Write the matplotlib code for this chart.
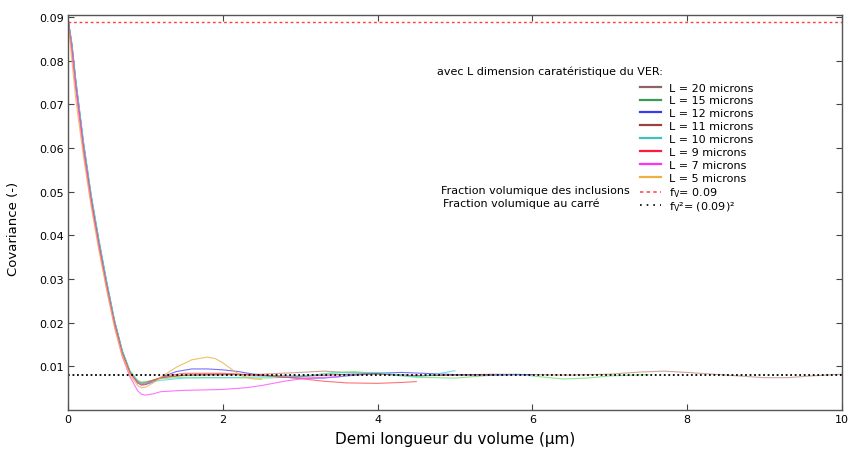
import matplotlib
matplotlib.use("Agg")
import matplotlib.pyplot as plt
from matplotlib.lines import Line2D

# ---------------- data ----------------
x_L20 = [0, 0.05, 0.1, 0.2, 0.3, 0.4, 0.5, 0.6, 0.7, 0.8, 0.9, 0.95, 1.0, 1.1, 1.2, 1.5, 2.0, 2.5, 3.0, 3.3, 3.7, 4.0,
         4.5, 5.0, 5.5, 6.0, 6.5, 7.0, 7.4, 7.7, 8.0, 8.5, 9.0, 9.3, 9.6, 10.0]
y_L20 = [0.0895, 0.0835, 0.0752, 0.0608, 0.0485, 0.0382, 0.0288, 0.0203, 0.0135, 0.0088, 0.0066, 0.0062, 0.0063,
         0.0068, 0.0074, 0.0079, 0.0080, 0.0082, 0.0086, 0.0089, 0.0085, 0.0082, 0.0079, 0.0080, 0.0082, 0.0081,
         0.0080, 0.0082, 0.0087, 0.0089, 0.0086, 0.0080, 0.0074, 0.0074, 0.0078, 0.0082]

x_L15 = [0, 0.05, 0.1, 0.2, 0.3, 0.4, 0.5, 0.6, 0.7, 0.8, 0.9, 0.95, 1.0, 1.1, 1.2, 1.5, 2.0, 2.5, 3.0, 3.4, 3.7, 4.0,
         4.5, 5.0, 5.5, 5.8, 6.1, 6.4, 6.7, 7.0, 7.5]
y_L15 = [0.0895, 0.0836, 0.0753, 0.0610, 0.0488, 0.0385, 0.0290, 0.0205, 0.0137, 0.0090, 0.0068, 0.0064, 0.0065,
         0.0068, 0.0072, 0.0075, 0.0074, 0.0073, 0.0076, 0.0085, 0.0088, 0.0083, 0.0075, 0.0073, 0.0080, 0.0082,
         0.0076, 0.0071, 0.0073, 0.0078, 0.0081]

x_L12 = [0, 0.05, 0.1, 0.2, 0.3, 0.4, 0.5, 0.6, 0.7, 0.8, 0.9, 0.95, 1.0, 1.1, 1.2, 1.4, 1.6, 1.8, 2.0, 2.2, 2.4,
         2.7, 3.0, 3.3, 3.6, 4.0, 4.3, 4.6, 5.0, 5.5, 6.0]
y_L12 = [0.0895, 0.0838, 0.0755, 0.0612, 0.0490, 0.0388, 0.0293, 0.0205, 0.0135, 0.0087, 0.0062, 0.0057, 0.0058,
         0.0064, 0.0075, 0.0088, 0.0094, 0.0094, 0.0092, 0.0088, 0.0082, 0.0076, 0.0073, 0.0073, 0.0078, 0.0084,
         0.0086, 0.0084, 0.0081, 0.0080, 0.0081]

x_L11 = [0, 0.05, 0.1, 0.2, 0.3, 0.4, 0.5, 0.6, 0.7, 0.8, 0.9, 0.95, 1.0, 1.1, 1.2, 1.5, 2.0, 2.5, 3.0, 3.5, 4.0,
         4.5, 5.0, 5.5]
y_L11 = [0.0895, 0.0834, 0.0750, 0.0606, 0.0484, 0.0381, 0.0287, 0.0202, 0.0134, 0.0087, 0.0065, 0.0061, 0.0062,
         0.0068, 0.0074, 0.0080, 0.0082, 0.0079, 0.0077, 0.0081, 0.0083, 0.0078, 0.0080, 0.0081]

x_L10 = [0, 0.05, 0.1, 0.2, 0.3, 0.4, 0.5, 0.6, 0.7, 0.8, 0.9, 0.95, 1.0, 1.1, 1.2, 1.5, 2.0, 2.5, 3.0, 3.5, 4.0,
         4.3, 4.5, 4.75, 5.0]
y_L10 = [0.0895, 0.0840, 0.0758, 0.0615, 0.0493, 0.0390, 0.0295, 0.0207, 0.0137, 0.0089, 0.0066, 0.0061, 0.0062,
         0.0065, 0.0068, 0.0073, 0.0074, 0.0076, 0.0078, 0.0085, 0.0086, 0.0080, 0.0076, 0.0082, 0.0090]

x_L9 = [0, 0.05, 0.1, 0.2, 0.3, 0.4, 0.5, 0.6, 0.7, 0.8, 0.9, 0.95, 1.0, 1.1, 1.3, 1.5, 2.0, 2.5, 3.0, 3.3, 3.6,
        4.0, 4.3, 4.5]
y_L9 = [0.0893, 0.0825, 0.0740, 0.0598, 0.0478, 0.0376, 0.0283, 0.0198, 0.0130, 0.0085, 0.0062, 0.0058, 0.0059,
        0.0068, 0.0079, 0.0084, 0.0084, 0.0080, 0.0072, 0.0066, 0.0062, 0.0061, 0.0063, 0.0065]

x_L7 = [0, 0.05, 0.1, 0.2, 0.3, 0.4, 0.5, 0.6, 0.7, 0.8, 0.9, 0.95, 1.0, 1.1, 1.2, 1.5, 2.0, 2.3, 2.5, 2.8, 3.0,
        3.2, 3.5]
y_L7 = [0.0893, 0.0822, 0.0735, 0.0592, 0.0472, 0.0370, 0.0277, 0.0192, 0.0123, 0.0076, 0.0044, 0.0036, 0.0034,
        0.0037, 0.0042, 0.0045, 0.0047, 0.0051, 0.0056, 0.0066, 0.0071, 0.0074, 0.0076]

x_L5 = [0, 0.05, 0.1, 0.2, 0.3, 0.4, 0.5, 0.6, 0.7, 0.8, 0.9, 0.95, 1.0, 1.1, 1.2, 1.4, 1.6, 1.8, 1.9, 2.0, 2.1,
        2.2, 2.3, 2.4, 2.5]
y_L5 = [0.0890, 0.0800, 0.0712, 0.0580, 0.0465, 0.0365, 0.0275, 0.0190, 0.0125, 0.0080, 0.0056, 0.0051, 0.0052,
        0.0062, 0.0075, 0.0098, 0.0115, 0.0121, 0.0118, 0.0108, 0.0095, 0.0083, 0.0075, 0.0071, 0.0070]

labels = ["L = 20 microns", "L = 15 microns", "L = 12 microns", "L = 11 microns",
          "L = 10 microns", "L = 9 microns", "L = 7 microns", "L = 5 microns"]
fv = 0.0889
fv_sq = 0.0081
x_range = [0, 10]

# ---------------- plot ----------------
series = [(x_L20, y_L20), (x_L15, y_L15), (x_L12, y_L12), (x_L11, y_L11),
          (x_L10, y_L10), (x_L9, y_L9), (x_L7, y_L7), (x_L5, y_L5)]
colors = ["#8c6464", "#3a9a5a", "#3a3aee", "#9a4040", "#40c0c0", "#ff1a40", "#ff30ff", "#f0b040"]
plot_colors = ["#c09080", "#70e070", "#5050ff", "#b05050", "#50d8d8", "#ff5050", "#ff50ff", "#f0b040"]

fig = plt.figure(figsize=(8.53, 4.56), dpi=100)
ax = fig.add_axes([68 / 853, 45 / 456, 774 / 853, 395.3 / 456])

for (xs, ys), c in zip(series, plot_colors):
    ax.plot(xs, ys, color=c, lw=0.8, alpha=0.8)

ax.plot(x_range, [fv, fv], color="#ff4040", lw=1.0, ls=(0, (2, 2)))
ax.plot(x_range, [fv_sq, fv_sq], color="black", lw=1.3, ls=(0, (1, 1.5)))

ax.set_xlim(0, 10)
ax.set_ylim(0, 0.0905)
ax.set_xticks([0, 2, 4, 6, 8, 10])
ax.set_yticks([0.01, 0.02, 0.03, 0.04, 0.05, 0.06, 0.07, 0.08, 0.09])
ax.set_yticklabels(["0.01", "0.02", "0.03", "0.04", "0.05", "0.06", "0.07", "0.08", "0.09"])
ax.tick_params(direction="in", top=True, right=True, length=4, width=0.8,
               labelsize=8, pad=3, color="#444444")
for s in ax.spines.values():
    s.set_color("#555555")
    s.set_linewidth(1.0)

ax.set_xlabel("Demi longueur du volume (µm)", fontsize=11, labelpad=5)
ax.set_ylabel("Covariance (-)", fontsize=9.5)
ax.yaxis.set_label_coords(-0.062, 0.46)

handles = [Line2D([], [], color=c, lw=1.6) for c in colors]
handles.append(Line2D([], [], color="#ff5050", lw=1.2, ls=(0, (2, 2))))
leg_labels = labels + [r"f$_\mathregular{V}$= 0.09"]
leg_kw = dict(loc="upper left", bbox_transform=fig.transFigure, frameon=False, fontsize=8,
              borderpad=0, borderaxespad=0, handlelength=1.9, handletextpad=0.7, labelspacing=0.26)
leg1 = fig.legend(handles, leg_labels, bbox_to_anchor=(640 / 853, 1 - 83.5 / 456), **leg_kw)
fig.legend([Line2D([], [], color="black", lw=1.2, ls=(0, (1, 3)))],
           [r"f$_\mathregular{V}$²= (0.09)²"], bbox_to_anchor=(640 / 853, 1 - 200 / 456), **leg_kw)

fig.text(437 / 853, 1 - 72 / 456, "avec L dimension caratéristique du VER:", fontsize=8, va="center", ha="left")
fig.text(441 / 853, 1 - 191 / 456, "Fraction volumique des inclusions", fontsize=8, va="center", ha="left")
fig.text(443 / 853, 1 - 204 / 456, "Fraction volumique au carré", fontsize=8, va="center", ha="left")

fig.savefig("out.png", dpi=100)
